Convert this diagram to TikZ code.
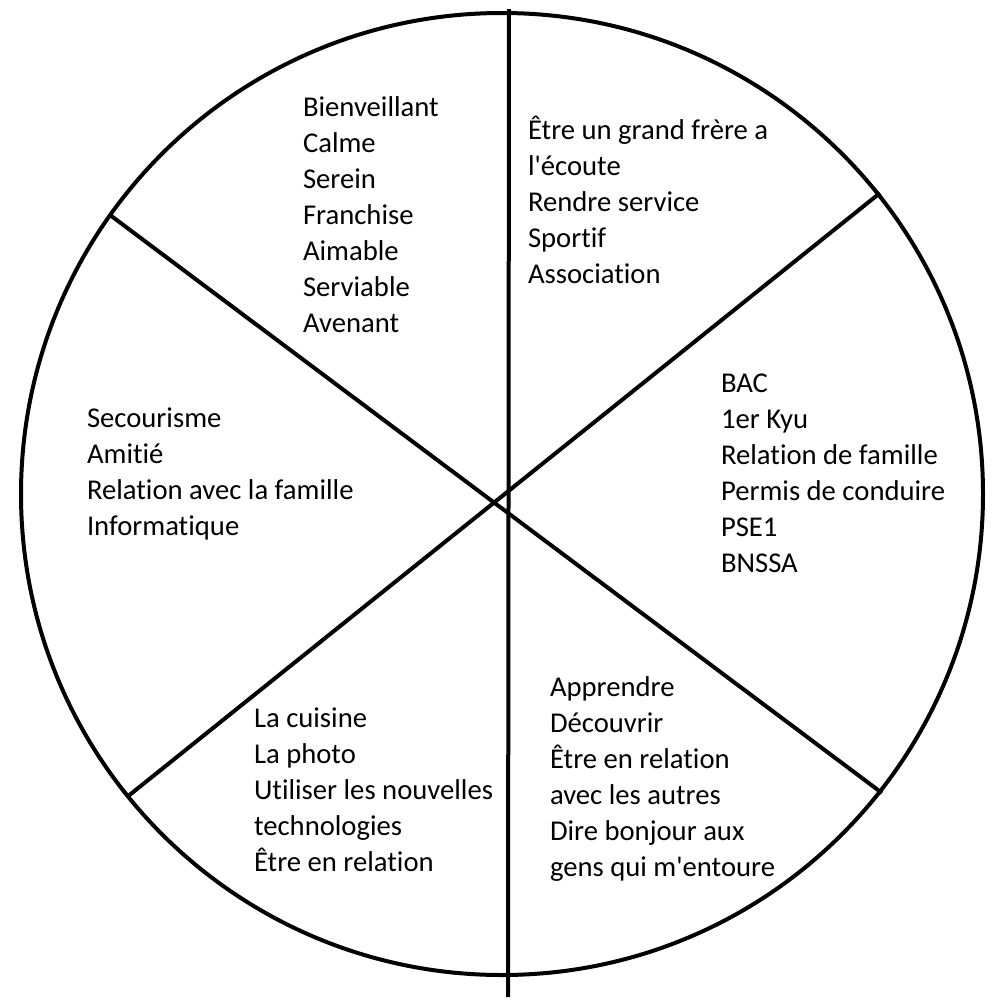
\documentclass[tikz,border=0pt]{standalone}
\usepackage{fontspec}
\setmainfont{Carlito}[Ligatures={NoCommon}]
\begin{document}
\begin{tikzpicture}[x=0.75pt,y=-0.75pt,
  stroke/.style={line width=3pt,black},
  block/.style={anchor=base west,inner sep=0pt,outer sep=0pt}]
\newcommand{\lst}[1]{\parbox[t]{240pt}{\raggedright\fontsize{21.5}{27}\selectfont #1}}
\newcommand{\apos}{\textquotesingle}
\useasboundingbox (0,0) rectangle (1000,1000);
\fill[white] (0,0) rectangle (1000,1000);

% outer wheel
\coordinate (c) at (502,494);
\draw[stroke] (c) circle [radius=360.75pt];

% dividing lines
\coordinate (vt) at (509,9);
\coordinate (vb) at (508,997);
\coordinate (nw) at (110,215);
\coordinate (se) at (882,793);
\coordinate (ne) at (880,193);
\coordinate (sw) at (127,797);
\draw[stroke] (vt) -- (vb);
\draw[stroke] (nw) -- (se);
\draw[stroke] (ne) -- (sw);

% sector contents
\node[block] (qualites) at (303,116) {\lst{Bienveillant\\Calme\\Serein\\Franchise\\Aimable\\Serviable\\Avenant}};
\node[block] (valeurs) at (528,139) {\lst{Être un grand frère a\\l\apos écoute\\Rendre service\\Sportif\\Association}};
\node[block] (acquis) at (721,392) {\lst{BAC\\1er Kyu\\Relation de famille\\Permis de conduire\\PSE1\\BNSSA}};
\node[block] (competences) at (87,427) {\lst{Secourisme\\Amitié\\Relation avec la famille\\Informatique}};
\node[block] (gouts) at (254,727) {\lst{La cuisine\\La photo\\Utiliser les nouvelles\\technologies\\Être en relation}};
\node[block] (envies) at (550,696) {\lst{Apprendre\\Découvrir\\Être en relation\\avec les autres\\Dire bonjour aux\\gens qui m\apos entoure}};
\end{tikzpicture}
\end{document}
